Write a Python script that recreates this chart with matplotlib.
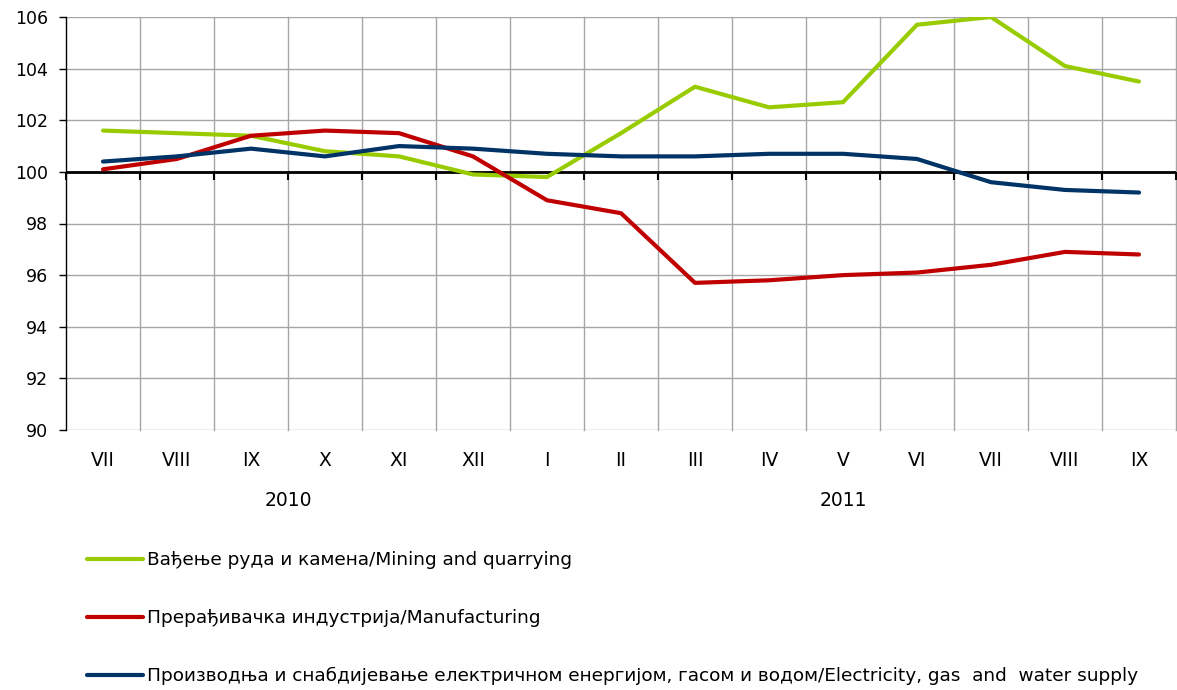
import numpy as np
import matplotlib.pyplot as plt
from matplotlib.markers import TICKDOWN
from matplotlib.transforms import blended_transform_factory

months = ["VII", "VIII", "IX", "X", "XI", "XII", "I", "II", "III",
          "IV", "V", "VI", "VII", "VIII", "IX"]
years = ["2010", "2011"]
year_spans = [(0, 5), (6, 14)]  # first/last month index of each year

mining = [101.6, 101.5, 101.4, 100.8, 100.6, 99.9, 99.8, 101.5, 103.3,
          102.5, 102.7, 105.7, 106.0, 104.1, 103.5]
manufacturing = [100.1, 100.5, 101.4, 101.6, 101.5, 100.6, 98.9, 98.4, 95.7,
                 95.8, 96.0, 96.1, 96.4, 96.9, 96.8]
electricity = [100.4, 100.6, 100.9, 100.6, 101.0, 100.9, 100.7, 100.6, 100.6,
               100.7, 100.7, 100.5, 99.6, 99.3, 99.2]

labels = [
    "Вађење руда и камена/Mining and quarrying",
    "Прерађивачка индустрија/Manufacturing",
    "Производња и снабдијевање електричном енергијом, гасом и водом/Electricity, gas  and  water supply",
]
colors = ["#99CC00", "#C00000", "#003366"]

plt.rcParams['font.family'] = ['DejaVu Sans']

W, H = 1177, 690
fig = plt.figure(figsize=(W / 100, H / 100), dpi=100)
ax = fig.add_axes([66 / W, 1 - 430 / H, 1110 / W, 413 / H])

x = np.arange(len(months))
ax.set_xlim(-0.5, len(months) - 0.5)
ax.set_ylim(90, 106)

# grid
grid_c = "#A6A6A6"
for b in np.arange(-0.5, len(months), 1.0)[1:]:
    ax.axvline(b, color=grid_c, lw=1, zorder=1, clip_on=False)
for yv in np.arange(90, 107, 2):
    ax.axhline(yv, color=grid_c, lw=1, zorder=1)

for s in ["top", "right", "bottom"]:
    ax.spines[s].set_visible(False)
ax.spines["left"].set_color("black")
ax.spines["left"].set_linewidth(1)

# base line at 100 with tick marks
ax.axhline(100, color="black", lw=2, zorder=2)
bounds = np.arange(-0.5, len(months), 1.0)
ax.plot(bounds, [100] * len(bounds), linestyle="none", marker=TICKDOWN,
        markersize=6, mew=1.5, color="black", zorder=2, clip_on=False)

for vals, lab, c in zip([mining, manufacturing, electricity], labels, colors):
    ax.plot(x, vals, color=c, lw=3, label=lab, solid_joinstyle="round",
            solid_capstyle="round", zorder=3)

ax.set_yticks(np.arange(90, 107, 2))
ax.tick_params(axis="y", length=5, width=1, pad=8, labelsize=12.5)
ax.set_xticks(x)
ax.set_xticklabels(months)
ax.tick_params(axis="x", length=0, pad=15, labelsize=13.5)

trans = blended_transform_factory(ax.transData, ax.transAxes)
for yr, (a, b) in zip(years, year_spans):
    ax.annotate(yr, xy=((a + b) / 2, 0), xycoords=trans,
                xytext=(0, -51), textcoords="offset points",
                ha="center", va="center", fontsize=13.5)

fig.legend(loc="upper left", bbox_to_anchor=(80 / W, 1 - 544 / H),
           frameon=False, fontsize=13.3, handlelength=3.0,
           handletextpad=0.25, labelspacing=2.15, borderaxespad=0)

fig.savefig("out.png", dpi=100)
